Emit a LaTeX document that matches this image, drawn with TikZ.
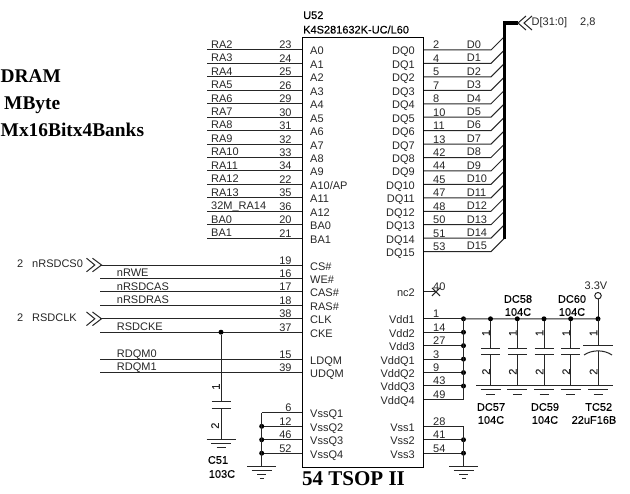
\documentclass[tikz,border=0pt]{standalone}
\usepackage{fontspec}
\setmainfont{Liberation Sans}
\newfontfamily\titlefont{Liberation Serif}
\newfontfamily\heavyfont[FakeBold=0.12]{Liberation Sans}
\usetikzlibrary{calc}
\tikzset{
 wire/.style={line width=1pt,draw=black!85},
 busline/.style={line width=3.3pt,draw=black},
 lbl/.style={inner sep=0pt,font=\fontsize{11}{11}\selectfont,text=black!85},
 boldlbl/.style={inner sep=0pt,font=\heavyfont\fontsize{11}{11}\selectfont,text=black},
 titletxt/.style={inner sep=0pt,anchor=base west,font=\titlefont\bfseries\fontsize{19.4}{19.4}\selectfont},
 joint/.style={circle,fill=black,inner sep=0pt,minimum size=5pt},
 caplbl/.style={inner sep=0pt,rotate=90,font=\heavyfont\fontsize{11}{11}\selectfont,text=black!85},
 chip/.style={draw=black,line width=1.1pt,inner sep=0pt,minimum width=121pt,minimum height=429.7pt,anchor=north west}
}
\newcommand{\gnd}[4]{% x, y, name, third bar offset
 \coordinate (#3) at (#1,#2);
 \draw[wire] ($(#3)+(-14.5,0)$) -- ($(#3)+(14.5,0)$);
 \draw[wire] ($(#3)+(-10,4)$) -- ($(#3)+(10,4)$);
 \draw[wire] ($(#3)+(-4.5,#4)$) -- ($(#3)+(4.5,#4)$);
}
\newcommand{\gndlow}[1]{\draw[wire] ($(#1)+(-2,12)$) -- ($(#1)+(2,12)$);}
\newcommand{\chev}[2]{% tip x, y
 \draw[wire] (#1-15,#2-6.8) -- (#1-6.7,#2) -- (#1-15,#2+6.8);
 \draw[wire] (#1-9,#2-6.8) -- (#1,#2) -- (#1-9,#2+6.8);
}
\begin{document}
\begin{tikzpicture}[x=1pt,y=-1pt]
\useasboundingbox (0,0) rectangle (630,494);
\node[chip] (ic) at (302,37) {};
\node[boldlbl,anchor=base west] (refa) at (303,19) {U52};
\node[boldlbl,anchor=base west] (refb) at (303,33.5) {K4S281632K-UC/L60};
\node[titletxt] (t1) at (0.5,82.7) {DRAM};
\node[titletxt] (t2) at (4,110) {MByte};
\node[titletxt] (t3) at (0.5,136.7) {Mx16Bitx4Banks};
\node[titletxt,font=\titlefont\bfseries\fontsize{21}{21}\selectfont] (t4) at (302,486) {54 TSOP II};
% address pins
\foreach \n/\net/\num/\pin in {0/RA2/23/A0,1/RA3/24/A1,2/RA4/25/A2,3/RA5/26/A3,4/RA6/29/A4,5/RA7/30/A5,6/RA8/31/A6,7/RA9/32/A7,8/RA10/33/A8,9/RA11/34/A9,10/RA12/22/A10\slash AP,11/RA13/35/A11,12/32M\_RA14/36/A12,13/BA0/20/BA0,14/BA1/21/BA1}{
 \pgfmathsetmacro{\yy}{50+13.44*\n}
 \coordinate (la\n) at (207,\yy);
 \draw[wire] (la\n) -- (ic.west |- la\n);
 \node[lbl,anchor=base west] (lan\n) at (211,\yy-1.7) {\net};
 \node[lbl,anchor=base east] (lnum\n) at (291.7,\yy-1) {\num};
 \node[lbl,anchor=base west] (lpin\n) at (310,\yy+5) {\pin};
}
% control pins
\foreach \n/\net/\num/\pin in {16//19/CS\#,17/nRWE/16/WE\#,18/nRSDCAS/17/CAS\#,19/nRSDRAS/18/RAS\#,20//38/CLK,21/RSDCKE/37/CKE,23/RDQM0/15/LDQM,24/RDQM1/39/UDQM}{
 \pgfmathsetmacro{\yy}{50+13.44*\n}
 \coordinate (lc\n) at (100,\yy);
 \draw[wire] (lc\n) -- (ic.west |- lc\n);
 \node[lbl,anchor=base west] (lcn\n) at (116.7,\yy-1.7) {\net};
 \node[lbl,anchor=base east] (lcnum\n) at (291.7,\yy-1) {\num};
 \node[lbl,anchor=base west] (lcpin\n) at (310,\yy+5) {\pin};
}
\chev{101.5}{265}
\chev{101.5}{318.8}
\node[lbl,anchor=base west] (s1) at (17,268) {2};
\node[lbl,anchor=base west] (s1n) at (32,268) {nRSDCS0};
\node[lbl,anchor=base west] (s2) at (17,322) {2};
\node[lbl,anchor=base west] (s2n) at (32,322) {RSDCLK};
% VssQ pins
\foreach \n/\num/\pin in {27/6/VssQ1,28/12/VssQ2,29/46/VssQ3,30/52/VssQ4}{
 \pgfmathsetmacro{\yy}{50+13.44*\n}
 \coordinate (lv\n) at (261.7,\yy);
 \draw[wire] (lv\n) -- (ic.west |- lv\n);
 \node[lbl,anchor=base east] (lvnum\n) at (291.7,\yy-1) {\num};
 \node[lbl,anchor=base west] (lvpin\n) at (310,\yy+5) {\pin};
}
\foreach \n in {28,29,30}{\node[joint] (jv\n) at (lv\n) {};}
\gnd{261.7}{466.7}{g1}{8}
\gndlow{g1}
\draw[wire] (lv27) -- (g1);
% C51
\node[joint] (jc) at (221,332.2) {};
\gnd{221}{440}{g2}{8}
\coordinate (c1a) at (221,401.5);
\coordinate (c1b) at (221,409);
\draw[wire] (jc) -- (c1a);
\draw[wire] (c1b) -- (g2);
\draw[wire] ($(c1a)+(-9.5,0)$) -- ($(c1a)+(9.5,0)$);
\draw[wire] ($(c1b)+(-9.5,0)$) -- ($(c1b)+(9.5,0)$);
\node[caplbl] (c1l1) at (216,386.7) {1};
\node[caplbl] (c1l2) at (215,425.7) {2};
\node[boldlbl] (c51) at (218,460) {C51};
\node[boldlbl] (c51v) at (222,474) {103C};
% DQ pins
\foreach \n/\num/\pin/\net in {0/2/DQ0/D0,1/4/DQ1/D1,2/5/DQ2/D2,3/7/DQ3/D3,4/8/DQ4/D4,5/10/DQ5/D5,6/11/DQ6/D6,7/13/DQ7/D7,8/42/DQ8/D8,9/44/DQ9/D9,10/45/DQ10/D10,11/47/DQ11/D11,12/48/DQ12/D12,13/50/DQ13/D13,14/51/DQ14/D14,15/53/DQ15/D15}{
 \pgfmathsetmacro{\yy}{50+13.44*\n}
 \coordinate (rd\n) at (491,\yy);
 \coordinate (rb\n) at (505,\yy-14);
 \draw[wire] (ic.east |- rd\n) -- (rd\n) -- (rb\n);
 \node[lbl,anchor=base west] (rnum\n) at (433,\yy-1) {\num};
 \node[lbl,anchor=base east] (rpin\n) at (415,\yy+5) {\pin};
 \node[lbl,anchor=base west] (rnet\n) at (466.7,\yy-1.7) {\net};
}
\coordinate (bend) at (504.5,239);
\coordinate (btop) at (504.5,23);
\coordinate (bhead) at (518,23);
\draw[busline,line cap=butt] (bend) -- (btop) -- (bhead);
\draw[wire] (526,16) -- (518,23) -- (526,30);
\draw[wire] (532,16) -- (524,23) -- (532,30);
\node[lbl,anchor=base west] (dbus) at (531.5,26) {D[31:0]};
\node[lbl,anchor=base west] (dpg) at (580,26) {2,8};
% nc2
\coordinate (nc) at (436,291.9);
\draw[wire] (ic.east |- nc) -- (nc);
\draw[wire] ($(nc)+(-4,-4)$) -- ($(nc)+(4,4)$);
\draw[wire] ($(nc)+(-4,4)$) -- ($(nc)+(4,-4)$);
\node[lbl,anchor=base west] (n40) at (433,290.9) {40};
\node[lbl,anchor=base east] (nc2) at (415,296.9) {nc2};
% Vdd
\foreach \n/\num/\pin in {20/1/Vdd1,21/14/Vdd2,22/27/Vdd3,23/3/VddQ1,24/9/VddQ2,25/43/VddQ3,26/49/VddQ4}{
 \pgfmathsetmacro{\yy}{50+13.44*\n}
 \coordinate (rv\n) at (463.5,\yy);
 \draw[wire] (ic.east |- rv\n) -- (rv\n);
 \node[lbl,anchor=base west] (rvnum\n) at (433,\yy-1) {\num};
 \node[lbl,anchor=base east] (rvpin\n) at (415,\yy+5) {\pin};
}
\foreach \n in {20,...,25}{\node[joint] (jd\n) at (rv\n) {};}
\draw[wire] (rv20) -- (rv26);
% Vss
\foreach \n/\num/\pin in {28/28/Vss1,29/41/Vss2,30/54/Vss3}{
 \pgfmathsetmacro{\yy}{50+13.44*\n}
 \coordinate (rs\n) at (463.5,\yy);
 \draw[wire] (ic.east |- rs\n) -- (rs\n);
 \node[lbl,anchor=base west] (rsnum\n) at (433,\yy-1) {\num};
 \node[lbl,anchor=base east] (rspin\n) at (415,\yy+5) {\pin};
}
\foreach \n in {29,30}{\node[joint] (js\n) at (rs\n) {};}
\gnd{463.5}{466.7}{g3}{8}
\gndlow{g3}
\draw[wire] (rs28) -- (g3);
% decoupling rail
\node[draw=black!85,line width=1pt,circle,inner sep=0pt,minimum size=6.5pt] (vcc) at (598,295.7) {};
\node[lbl] (v33) at (596,285.7) {3.3V};
\coordinate (rail) at (598,318.8);
\draw[wire] (rv20) -- (rail);
\draw[wire] (vcc) -- (rail);
\node[joint] (jrail) at (rail) {};
\foreach \x/\k in {490.5/a,517.3/b,544/c,570.7/d}{
 \node[joint] (j\k) at (\x,318.8) {};
 \coordinate (p\k) at (\x,348.3);
 \coordinate (q\k) at (\x,355);
 \draw[wire] (j\k) -- (p\k);
 \draw[wire] (q\k) -- (\x,386);
 \draw[wire] ($(p\k)+(-9.5,0)$) -- ($(p\k)+(9.5,0)$);
 \draw[wire] ($(q\k)+(-9.5,0)$) -- ($(q\k)+(9.5,0)$);
 \gnd{\x}{386}{g\k}{9}
 \node[caplbl] (l1\k) at (\x-4.5,333) {1};
 \node[caplbl] (l2\k) at (\x-4.5,371.7) {2};
}
% TC52
\coordinate (pt) at (598,345.7);
\draw[wire] (rail) -- (pt);
\draw[wire] ($(pt)+(-14.7,0)$) -- ($(pt)+(14.7,0)$);
\draw[wire] (584,355) .. controls (592,349.5) and (604,349.5) .. (612,355);
\draw[wire] (598,351.3) -- (598,386);
\gnd{598}{386}{ge}{9}
\node[caplbl] (l1e) at (593.5,333) {1};
\node[caplbl] (l2e) at (593.5,371.7) {2};
% labels
\node[boldlbl] (a1) at (518,299) {DC58};
\node[boldlbl] (a2) at (518,312) {104C};
\node[boldlbl] (b1) at (572,299) {DC60};
\node[boldlbl] (b2) at (572,312) {104C};
\node[boldlbl] (c1) at (491,407) {DC57};
\node[boldlbl] (c2) at (491,420) {104C};
\node[boldlbl] (d1) at (545,407) {DC59};
\node[boldlbl] (d2) at (545,420) {104C};
\node[boldlbl] (e1) at (598.7,407) {TC52};
\node[boldlbl] (e2) at (594,420) {22uF16B};
\end{tikzpicture}
\end{document}
